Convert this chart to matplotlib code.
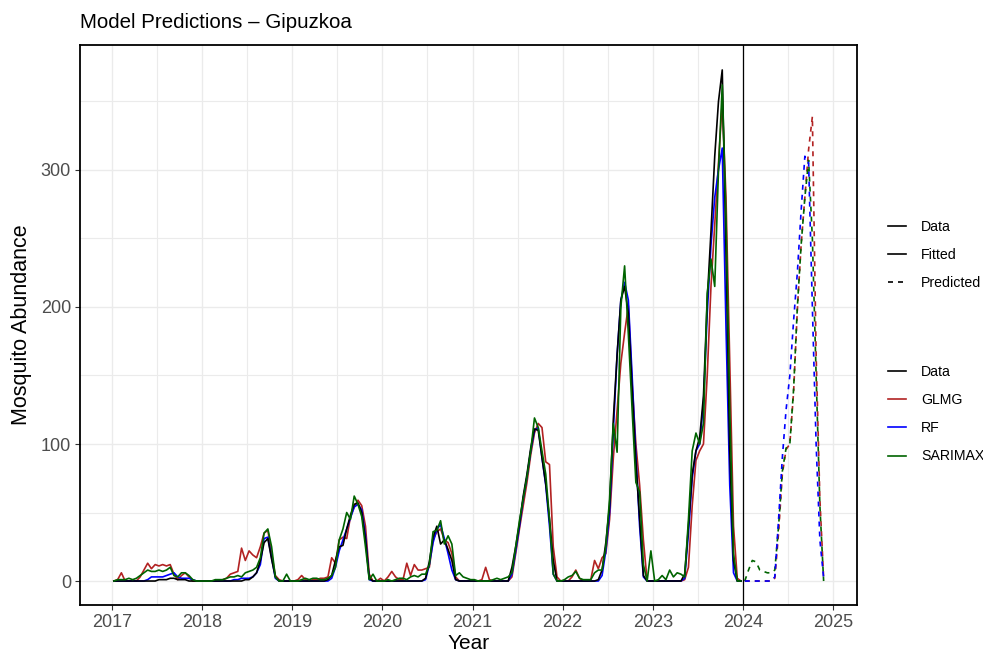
import numpy as np
import matplotlib
matplotlib.use("Agg")
import matplotlib.pyplot as plt
from matplotlib.lines import Line2D

plt.rcParams['font.family'] = ['Liberation Sans', 'DejaVu Sans']

# half-monthly observations, 24 per year, 2017-2023
years = [2017, 2018, 2019, 2020, 2021, 2022, 2023]

data_obs = [
    [0,0,0,0,0,0,0,0,0,0,0,0,1,1,1,2,2,1,1,1,0,0,0,0],
    [0,0,0,0,0,0,0,0,0,0,0,1,1,3,6,15,28,31,16,3,0,0,0,0],
    [0,0,0,0,0,0,0,0,0,1,4,15,25,26,38,48,56,57,50,30,2,0,0,0],
    [0,0,0,0,0,0,0,0,0,0,0,2,14,32,40,27,30,23,15,1,0,0,0,0],
    [0,0,0,0,0,0,0,0,0,0,10,25,42,62,78,97,111,110,90,71,45,15,0,0],
    [0,0,0,0,0,0,0,0,0,1,8,28,55,118,165,205,215,195,140,87,45,4,0,0],
    [0,0,0,0,0,0,0,0,5,40,78,95,105,135,205,255,310,350,373,240,95,15,0,0],
]

glmg_fit = [
    [0,1,6,0,0,0,0,3,8,13,9,12,11,12,11,12,5,1,4,6,3,0,0,0],
    [0,0,0,0,0,1,2,5,6,7,24,15,22,19,17,25,35,37,20,4,1,0,0,0],
    [0,1,4,1,0,1,1,2,2,3,17,13,30,32,31,47,54,59,55,40,5,0,0,2],
    [0,3,7,3,1,1,13,4,12,8,8,9,10,30,36,38,30,28,20,3,0,0,0,0],
    [0,0,1,10,1,0,0,0,0,0,3,20,38,55,72,92,108,115,112,87,85,25,3,0],
    [0,0,3,8,2,0,0,1,15,9,17,20,45,90,125,159,181,201,144,100,70,30,0,0],
    [0,0,0,0,0,0,0,0,1,10,55,88,95,100,150,215,260,305,350,280,160,40,2,0],
]

rf_fit = [
    [0,0,0,0,0,0,0,0,0,1,3,3,3,3,4,5,6,3,2,2,2,1,0,0],
    [0,0,0,0,0,0,0,0,1,1,2,2,2,3,6,12,31,32,17,2,0,0,0,0],
    [0,0,0,0,0,0,0,0,0,0,2,10,22,30,38,46,54,56,52,33,1,0,0,0],
    [0,0,0,0,0,0,0,0,0,0,0,1,12,28,38,41,31,20,8,1,0,0,0,0],
    [0,0,0,0,0,0,0,0,0,0,5,22,40,60,76,95,110,112,90,70,40,5,0,0],
    [0,0,0,0,0,0,0,0,0,0,4,22,50,110,165,205,218,205,150,92,40,3,0,0],
    [0,0,0,0,0,0,0,0,2,35,75,95,100,130,195,245,280,300,316,185,70,6,0,0],
]

sarimax_fit = [
    [0,1,1,1,2,1,2,4,6,8,7,7,8,7,8,10,4,3,6,6,4,1,0,0],
    [0,0,0,1,1,1,2,3,3,4,3,6,7,8,10,17,35,38,25,3,0,0,5,0],
    [0,0,1,2,1,2,2,1,1,2,4,10,30,38,50,45,62,56,47,25,1,5,0,0],
    [0,1,0,1,2,2,1,3,4,3,5,5,12,36,37,44,27,33,27,4,6,3,2,1],
    [1,0,0,0,0,1,2,1,2,3,6,25,44,60,76,95,119,112,95,78,45,5,0,0],
    [1,3,4,7,2,1,1,1,6,8,8,25,60,115,94,200,230,180,125,72,65,12,0,22],
    [0,1,4,1,8,3,6,5,3,45,95,108,100,115,210,235,215,300,362,265,125,20,0,0],
]

# 2024 forecasts, same half-monthly step
glmg_pred = [0,0,0,0,0,0,0,0,2,35,78,96,100,138,198,245,280,315,339,165,60,2]
rf_pred = [0,0,0,0,0,0,0,0,3,45,90,125,150,190,225,270,310,305,200,100,30,2]
sarimax_pred = [0,8,15,14,8,7,6,6,8,40,80,97,100,140,200,245,280,307,250,150,55,0]

t_fit = np.concatenate([y + (np.arange(24) + 0.5) / 24 for y in years])
t_pred = 2024 + (np.arange(len(glmg_pred)) + 0.5) / 24

def flat(rows):
    return np.concatenate([np.array(r, dtype=float) for r in rows])

col_data = 'black'
col_glmg = '#B22222'
col_rf = '#0000FF'
col_sar = '#006400'
lw = 1.2
dash = (0, (3.0, 3.0))

fig = plt.figure(figsize=(9.83, 6.55), dpi=100)
ax = fig.add_axes([80/983, 1 - 605/655, 777/983, 560/655])

ax.plot(t_fit, flat(glmg_fit), color=col_glmg, lw=lw)
ax.plot(t_fit, flat(rf_fit), color=col_rf, lw=lw)
ax.plot(t_fit, flat(data_obs), color=col_data, lw=lw)
ax.plot(t_fit, flat(sarimax_fit), color=col_sar, lw=lw)

ax.plot(t_pred, glmg_pred, color=col_glmg, lw=lw, ls=dash)
ax.plot(t_pred, sarimax_pred, color=col_sar, lw=lw, ls=dash)
ax.plot(t_pred, rf_pred, color=col_rf, lw=lw, ls=dash)

ax.axvline(2024, color='black', lw=0.9)

ax.set_xticks(range(2017, 2026))
ax.set_xticks(np.arange(2017.5, 2025, 1), minor=True)
ax.set_yticks([0, 100, 200, 300])
ax.set_yticks([50, 150, 250, 350], minor=True)
ax.set_xlim(2016.645, 2025.266)
ax.set_ylim(-17.5, 391.2)
ax.grid(which='major', color='#EBEBEB', lw=1.0)
ax.grid(which='minor', color='#EBEBEB', lw=0.8)
ax.set_axisbelow(True)
ax.tick_params(which='major', length=3.5, width=0.8, color='#333333',
               labelsize=13, labelcolor='#4D4D4D', pad=3)
ax.tick_params(which='minor', length=0)
for s in ax.spines.values():
    s.set_color('black')
    s.set_linewidth(1.3)

ax.set_xlabel('Year', fontsize=15, labelpad=2)
ax.set_ylabel('Mosquito Abundance', fontsize=15.5, labelpad=6)
fig.text(80/983, 1 - 22/655, 'Model Predictions – Gipuzkoa', fontsize=14.8,
         ha='left', va='center')

# linetype legend
type_handles = [Line2D([], [], color='black', lw=lw),
                Line2D([], [], color='black', lw=lw),
                Line2D([], [], color='black', lw=lw, ls=dash)]
leg1 = fig.legend(type_handles, ['Data', 'Fitted', 'Predicted'],
                  loc='upper left', bbox_to_anchor=(888/983, 1 - 220/655),
                  frameon=False, fontsize=10.2, handlelength=1.25,
                  handletextpad=1.1, labelspacing=1.0, borderpad=0,
                  borderaxespad=0)

# model colour legend
model_handles = [Line2D([], [], color=col_data, lw=lw),
                 Line2D([], [], color=col_glmg, lw=lw),
                 Line2D([], [], color=col_rf, lw=lw),
                 Line2D([], [], color=col_sar, lw=lw)]
leg2 = fig.legend(model_handles, ['Data', 'GLMG', 'RF', 'SARIMAX'],
                  loc='upper left', bbox_to_anchor=(888/983, 1 - 365/655),
                  frameon=False, fontsize=10.2, handlelength=1.25,
                  handletextpad=1.1, labelspacing=1.0, borderpad=0,
                  borderaxespad=0)

fig.savefig('out.png', dpi=100)
